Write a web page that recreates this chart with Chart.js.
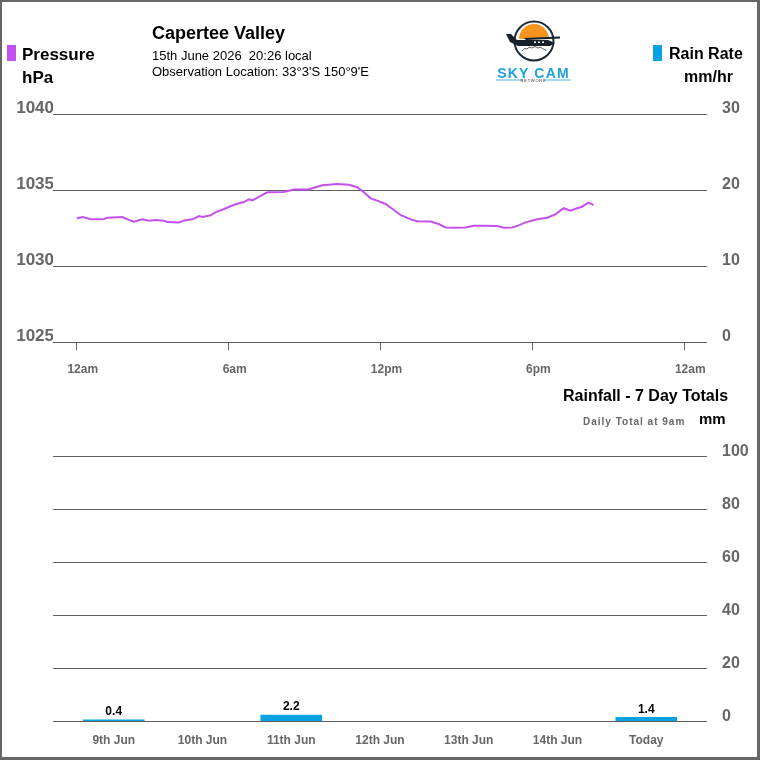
<!DOCTYPE html>
<html>
<head>
<meta charset="utf-8">
<script src="https://cdn.jsdelivr.net/npm/chart.js@4.4.1/dist/chart.umd.min.js"></script>
<style>
  html, body { margin:0; padding:0; background:#fff; }
  body { position:relative; width:760px; height:760px; overflow:hidden; font-family:"Liberation Sans", Arial, sans-serif; }
  canvas { position:absolute; left:0; top:0; }
  .t { position:absolute; line-height:1; white-space:pre; color:#000; }
  .b { font-weight:bold; }
  .box { position:absolute; width:9px; height:16px; }
  #frame { position:absolute; left:0; top:0; width:760px; height:760px; box-sizing:border-box;
           border:2px solid #666; border-right-width:3px; border-bottom-width:3px; pointer-events:none; }
</style>
</head>
<body>
<canvas id="topChart" width="760" height="760"></canvas>
<canvas id="bottomChart" width="760" height="760"></canvas>

<div class="t b" style="left:152px;top:24px;font-size:18px;">Capertee Valley</div>
<div class="t" style="left:152px;top:49px;font-size:13px;">15th June 2026  20:26 local</div>
<div class="t" style="left:152px;top:65px;font-size:13px;">Observation Location: 33°3'S 150°9'E</div>

<div class="box" style="left:7px;top:45px;background:#c351ef;"></div>
<div class="t b" style="left:22px;top:46px;font-size:17px;">Pressure</div>
<div class="t b" style="left:22px;top:69px;font-size:17px;">hPa</div>

<div class="box" style="left:653px;top:45px;background:#06a2e2;"></div>
<div class="t b" style="left:669px;top:46px;font-size:16px;">Rain Rate</div>
<div class="t b" style="left:684px;top:69px;font-size:16px;">mm/hr</div>

<div class="t b" style="left:563px;top:388px;font-size:16px;">Rainfall - 7 Day Totals</div>
<div class="t b" style="left:583px;top:417px;font-size:10px;letter-spacing:1px;color:#666;">Daily Total at 9am</div>
<div class="t b" style="left:699px;top:411px;font-size:15px;">mm</div>

<svg style="position:absolute;left:488px;top:16px" width="90" height="70" viewBox="488 16 90 70">
  <circle cx="534" cy="41" r="19.5" fill="#fff" stroke="#1d2b36" stroke-width="2"/>
  <path d="M519,39 A15,15 0 0 1 549,39 Z" fill="#f7941d"/>
  <path d="M506,34 L511,34 L517,40 L548,40 L555,43 L550,46 L518,46 L510,42 Z" fill="#15202b"/>
  <path d="M524,38 L560,36.5 L560,38.5 L526,40 Z" fill="#15202b"/>
  <rect x="534" y="41.5" width="2" height="1.5" fill="#fff"/>
  <rect x="538" y="41.5" width="2" height="1.5" fill="#fff"/>
  <rect x="542" y="41.5" width="2" height="1.5" fill="#fff"/>
  <path d="M522,51 q2,-4 5,-2 q2,-3 5,-1 q3,-3 6,0 q3,-2 5,1 q3,0 3,2" fill="none" stroke="#333" stroke-width="0.8"/>
  <text x="533.5" y="78" text-anchor="middle" font-family="Liberation Sans, Arial" font-size="14" font-weight="bold" letter-spacing="1.2" fill="#1ba1e2">SKY CAM</text>
  <path d="M496,80 H523 M544,80 H571" stroke="#1ba1e2" stroke-width="0.8"/>
  <text x="533.5" y="82" text-anchor="middle" font-family="Liberation Sans, Arial" font-size="4" letter-spacing="0.8" fill="#333">NETWORK</text>
</svg>

<div id="frame"></div>

<script>
// pressure trace, hours since midnight and hPa
const pressureHours = [0.00, 0.23, 0.55, 1.08, 1.21, 1.80, 2.00, 2.26, 2.59, 2.85, 3.12, 3.45, 3.58, 4.04, 4.24,
  4.57, 4.83, 4.96, 5.29, 5.49, 5.82, 6.21, 6.60, 6.80, 6.94, 7.26, 7.53, 8.18, 8.58, 9.17, 9.37, 9.70, 10.29,
  10.75, 11.08, 11.34, 11.61, 11.87, 12.20, 12.46, 12.79, 13.19, 13.45, 13.98, 14.30, 14.57, 14.90, 15.36,
  15.68, 16.08, 16.61, 16.87, 17.20, 17.46, 17.73, 18.19, 18.58, 18.91, 19.24, 19.50, 19.77, 19.96, 20.22, 20.42];
const pressureValues = [1033.14, 1033.22, 1033.07, 1033.09, 1033.18, 1033.22, 1033.07, 1032.92, 1033.07, 1032.98,
  1033.03, 1032.98, 1032.89, 1032.87, 1033.00, 1033.07, 1033.29, 1033.22, 1033.34, 1033.55, 1033.75, 1034.03,
  1034.21, 1034.39, 1034.32, 1034.61, 1034.85, 1034.87, 1035.03, 1035.03, 1035.15, 1035.31, 1035.39, 1035.35,
  1035.18, 1034.85, 1034.45, 1034.30, 1034.08, 1033.77, 1033.36, 1033.07, 1032.94, 1032.92, 1032.76, 1032.54,
  1032.52, 1032.54, 1032.65, 1032.65, 1032.63, 1032.52, 1032.54, 1032.67, 1032.87, 1033.07, 1033.18, 1033.40,
  1033.80, 1033.64, 1033.80, 1033.90, 1034.17, 1034.01];
// no rain today
const rainRateHours = [];
const rainRateValues = [];

const hourTicks = [0, 6, 12, 18, 24];
const hourLabels = ['12am', '6am', '12pm', '6pm', '12am'];
const pressureTicks = [1025, 1030, 1035, 1040];
const rainRateTicks = [0, 10, 20, 30];

const rainDays = ['9th Jun', '10th Jun', '11th Jun', '12th Jun', '13th Jun', '14th Jun', 'Today'];
const rainTotals = [0.4, 0, 2.2, 0, 0, 0, 1.4];
const rainTotalTicks = [0, 20, 40, 60, 80, 100];

const PURPLE = '#c351ef';
const BLUE = '#06a2e2';
const GRID = '#5e5e5e';
const AXIS_TEXT = '#666';
const FONT = '"Liberation Sans", Arial, sans-serif';

Chart.defaults.font.family = FONT;

// top chart: pressure + rain rate
new Chart(document.getElementById('topChart'), {
  type: 'line',
  data: {
    datasets: [
      {
        label: 'Pressure',
        data: pressureHours.map((h, i) => ({x: h, y: pressureValues[i]})),
        yAxisID: 'yP',
        borderColor: PURPLE,
        borderWidth: 2,
        pointRadius: 0,
        tension: 0
      },
      {
        type: 'bar',
        label: 'Rain Rate',
        data: rainRateHours.map((h, i) => ({x: h, y: rainRateValues[i]})),
        yAxisID: 'yR',
        backgroundColor: BLUE
      }
    ]
  },
  options: {
    responsive: false,
    animation: false,
    devicePixelRatio: 1,
    layout: { padding: { top: 114, left: 0, right: 0, bottom: 0 } },
    plugins: { legend: { display: false }, tooltip: { enabled: false } },
    scales: {
      x: {
        type: 'linear', min: -0.94, max: 24.9, offset: false,
        afterBuildTicks: s => { s.ticks = hourTicks.map(v => ({value: v})); },
        afterFit: s => { s.height = 760 - 342; },
        ticks: {
          callback: v => hourLabels[hourTicks.indexOf(v)],
          color: AXIS_TEXT, font: { size: 12, weight: 'bold' },
          padding: 12, labelOffset: 6, maxRotation: 0, autoSkip: false
        },
        grid: { drawOnChartArea: false, drawTicks: true, tickLength: 8, color: GRID, offset: false },
        border: { display: false }
      },
      yP: {
        position: 'left', min: 1025, max: 1040,
        afterBuildTicks: s => { s.ticks = pressureTicks.map(v => ({value: v})); },
        afterFit: s => { s.width = 53; },
        ticks: { callback: v => String(v), color: AXIS_TEXT, font: { size: 17, weight: 'bold' }, padding: -1, labelOffset: -6 },
        grid: { color: GRID, drawTicks: false },
        border: { display: false }
      },
      yR: {
        position: 'right', min: 0, max: 30,
        afterBuildTicks: s => { s.ticks = rainRateTicks.map(v => ({value: v})); },
        afterFit: s => { s.width = 53; },
        ticks: { callback: v => String(v), color: AXIS_TEXT, font: { size: 16, weight: 'bold' }, padding: 15, labelOffset: -5 },
        grid: { display: false, drawTicks: false },
        border: { display: false }
      }
    }
  }
});

const barValueLabels = {
  id: 'barValueLabels',
  afterDatasetsDraw(chart) {
    const ctx = chart.ctx;
    const meta = chart.getDatasetMeta(0);
    ctx.save();
    ctx.font = 'bold 12px ' + FONT;
    ctx.fillStyle = '#000';
    ctx.textAlign = 'center';
    ctx.textBaseline = 'bottom';
    meta.data.forEach((bar, i) => {
      if (rainTotals[i] > 0) ctx.fillText(rainTotals[i].toFixed(1), bar.x, bar.y - 2);
    });
    ctx.restore();
  }
};

// bottom chart: 7 day rainfall
new Chart(document.getElementById('bottomChart'), {
  type: 'bar',
  data: {
    datasets: [{
      label: 'Rainfall',
      data: rainTotals.map((v, i) => ({x: i, y: v})),
      backgroundColor: c => (c.raw && c.raw.y > 0 ? BLUE : 'rgba(0,0,0,0)'),
      base: -0.5,
      barThickness: 61
    }]
  },
  options: {
    responsive: false,
    animation: false,
    devicePixelRatio: 1,
    layout: { padding: { top: 456, left: 53, right: 0, bottom: 0 } },
    plugins: { legend: { display: false }, tooltip: { enabled: false } },
    scales: {
      x: {
        type: 'linear', min: -0.684, max: 6.684, offset: false,
        afterBuildTicks: s => { s.ticks = rainDays.map((d, i) => ({value: i})); },
        afterFit: s => { s.height = 760 - 721; },
        ticks: {
          callback: v => rainDays[v],
          color: AXIS_TEXT, font: { size: 12, weight: 'bold' },
          padding: 12, maxRotation: 0, autoSkip: false
        },
        grid: { display: false, drawTicks: false, offset: false },
        border: { display: false }
      },
      y: {
        position: 'right', min: 0, max: 100,
        afterBuildTicks: s => { s.ticks = rainTotalTicks.map(v => ({value: v})); },
        afterFit: s => { s.width = 53; },
        ticks: { callback: v => String(v), color: AXIS_TEXT, font: { size: 16, weight: 'bold' }, padding: 15, labelOffset: -4 },
        grid: { color: GRID, drawTicks: false },
        border: { display: false }
      }
    }
  },
  plugins: [barValueLabels]
});
</script>
</body>
</html>
